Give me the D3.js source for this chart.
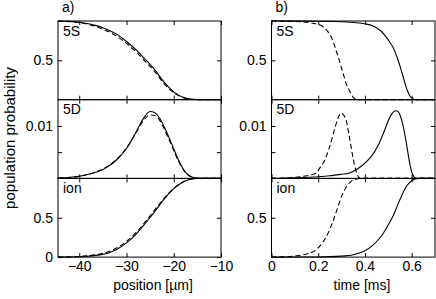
<!DOCTYPE html>
<meta charset="utf-8">
<style>
body { margin: 0; background: #fff; }
svg text { font-family: "Liberation Sans", Arial, sans-serif; font-size: 14px; fill: #000; }
.frame { fill: none; stroke: #000; stroke-width: 1; }
.tick line { stroke: #000; }
.curve { fill: none; stroke: #000; stroke-width: 1.1; }
.dashed { stroke-dasharray: 5,3; }
</style>
<body>
<script src="https://cdn.jsdelivr.net/npm/d3@7"></script>
<script>
// panel a) : population vs position [um]
var pos5S = [[-44.5,1],[-42,0.995],[-40,0.985],[-38,0.965],[-36,0.935],[-34,0.89],[-32,0.83],[-30,0.74],
             [-28,0.635],[-26,0.51],[-24,0.38],[-22,0.22],[-20,0.10],[-18,0.03],[-16.5,0.008],[-15,0.001],[-14,0],[-10,0]];
var pos5Sdash = [[-44.5,1],[-42,0.992],[-40,0.98],[-38,0.955],[-36,0.92],[-34,0.87],[-32,0.805],[-30,0.715],
             [-28,0.61],[-26,0.485],[-24,0.355],[-22,0.2],[-20,0.09],[-18,0.025],[-16.5,0.006],[-15,0.001],[-14,0],[-10,0]];
var pos5D = [[-44.5,0.00005],[-40,0.0004],[-38,0.0008],[-36,0.0013],[-34,0.0022],[-32,0.0036],[-30,0.0057],
             [-28,0.0088],[-26.5,0.0113],[-25,0.01275],[-24,0.0125],[-23,0.0115],[-22,0.0098],[-21,0.0078],
             [-20,0.0056],[-19,0.0035],[-18,0.0018],[-17,0.0007],[-16,0.0002],[-15,0],[-10,0]];
var pos5Ddash = [[-44.5,0.00005],[-40,0.0004],[-38,0.0008],[-36,0.0014],[-34,0.0023],[-32,0.0037],[-30,0.0058],
             [-28,0.0087],[-26.5,0.0109],[-25,0.0121],[-24,0.012],[-23,0.0111],[-22,0.0094],[-21,0.0074],
             [-20,0.0053],[-19,0.0033],[-18,0.0017],[-17,0.0007],[-16,0.0002],[-15,0],[-10,0]];
var posIon = [[-44.5,0],[-40,0.005],[-38,0.012],[-36,0.025],[-34,0.05],[-32,0.1],[-30,0.18],[-28,0.29],
             [-26,0.43],[-24,0.58],[-22,0.74],[-20,0.87],[-18,0.955],[-16.5,0.99],[-15,1],[-10,1]];
var posIonDash = [[-44.5,0],[-40,0.008],[-38,0.018],[-36,0.035],[-34,0.065],[-32,0.12],[-30,0.2],[-28,0.31],
             [-26,0.45],[-24,0.6],[-22,0.75],[-20,0.875],[-18,0.957],[-16.5,0.99],[-15,1],[-10,1]];

// panel b) : population vs time [ms]
var time5S = [[0,1],[0.1,0.999],[0.2,0.997],[0.3,0.99],[0.35,0.98],[0.4,0.965],[0.44,0.93],[0.47,0.87],
             [0.5,0.76],[0.52,0.665],[0.54,0.52],[0.56,0.33],[0.58,0.13],[0.59,0.06],[0.6,0.02],[0.61,0.005],[0.62,0],[0.7,0]];
var time5Sdash = [[0,1],[0.05,0.999],[0.1,0.995],[0.15,0.985],[0.18,0.97],[0.2,0.955],[0.22,0.93],[0.24,0.87],
             [0.26,0.77],[0.275,0.64],[0.29,0.5],[0.3,0.4],[0.31,0.3],[0.32,0.2],[0.333,0.12],[0.345,0.05],
             [0.355,0.015],[0.365,0.003],[0.375,0],[0.7,0]];
var time5D = [[0,0],[0.1,0.0001],[0.2,0.0003],[0.25,0.0005],[0.3,0.0008],[0.33,0.001],[0.36,0.0016],[0.39,0.0025],
             [0.42,0.0038],[0.44,0.005],[0.46,0.0066],[0.48,0.0087],[0.5,0.011],[0.515,0.0123],[0.53,0.0129],
             [0.54,0.0128],[0.55,0.0121],[0.56,0.0107],[0.57,0.0086],[0.58,0.006],[0.59,0.0033],[0.6,0.0013],
             [0.61,0.0003],[0.62,0],[0.7,0]];
var time5Ddash = [[0,0],[0.1,0.0002],[0.15,0.0005],[0.19,0.001],[0.21,0.0022],[0.23,0.0037],[0.25,0.0062],
             [0.27,0.0094],[0.285,0.0115],[0.298,0.01245],[0.31,0.012],[0.32,0.011],[0.33,0.0088],[0.34,0.0062],
             [0.35,0.0037],[0.36,0.0017],[0.37,0.0005],[0.38,0],[0.7,0]];
var timeIon = [[0,0],[0.2,0.002],[0.3,0.012],[0.35,0.03],[0.4,0.08],[0.43,0.14],[0.46,0.23],[0.48,0.31],
             [0.5,0.41],[0.52,0.52],[0.54,0.66],[0.56,0.8],[0.58,0.91],[0.6,0.97],[0.62,0.995],[0.64,1],[0.7,1]];
var timeIonDash = [[0,0],[0.05,0.004],[0.1,0.015],[0.15,0.04],[0.19,0.09],[0.22,0.19],[0.24,0.29],[0.26,0.43],
             [0.28,0.6],[0.3,0.77],[0.32,0.89],[0.34,0.96],[0.36,0.99],[0.38,1],[0.7,1]];

var rowNames = ["5S", "5D", "ion"];
var rowMax = [1, 0.015, 1];
var posTicks = [-40, -30, -20, -10];
var timeTicks = [0, 0.2, 0.4, 0.6];
var yTicksLeft = [[0.5], [0.005, 0.01], [0, 0.5]];
var yTicksRight = [[0.5], [0.005, 0.01], [0.5]];
var yLabels = {"0": "0", "0.5": "0.5", "0.01": "0.01"};

var W = 436, H = 299;
var rowTop = 21, rowH = 78.7;

var svg = d3.select("body").append("svg")
    .attr("width", W)
    .attr("height", H);

var cols = [
  {x: d3.scaleLinear().domain([-44.5, -10]).range([58, 221]), ticks: posTicks, fmt: d3.format("d"),
   lines: [[pos5S, pos5Sdash], [pos5D, pos5Ddash], [posIon, posIonDash]], yt: yTicksLeft,
   tag: "a)", xlabel: "position [\u00b5m]", xlabelX: 153},
  {x: d3.scaleLinear().domain([0, 0.7]).range([271.5, 435]), ticks: timeTicks, fmt: d3.format(".1~f"),
   lines: [[time5S, time5Sdash], [time5D, time5Ddash], [timeIon, timeIonDash]], yt: yTicksRight,
   tag: "b)", xlabel: "time [ms]", xlabelX: 362}
];

cols.forEach(function(c) {
  var x = c.x;
  var x0 = x.range()[0], x1 = x.range()[1];

  rowNames.forEach(function(name, i) {
    var top = rowTop + i * rowH, bot = top + rowH;
    var y = d3.scaleLinear().domain([0, rowMax[i]]).range([bot, top]);
    var g = svg.append("g");

    var line = d3.line()
        .x(function(d) { return x(d[0]); })
        .y(function(d) { return y(d[1]); })
        .curve(d3.curveMonotoneX);

    g.append("path").attr("class", "curve dashed").attr("d", line(c.lines[i][1]));
    g.append("path").attr("class", "curve").attr("d", line(c.lines[i][0]));

    // inward ticks on all four sides
    var last = i == 2;
    g.append("g").attr("transform", "translate(0," + bot + ")")
        .call(d3.axisBottom(x).tickValues(c.ticks).tickSize(-4).tickSizeOuter(0).tickPadding(4)
              .tickFormat(last ? c.fmt : function() { return ""; }));
    g.append("g").attr("transform", "translate(0," + top + ")")
        .call(d3.axisTop(x).tickValues(c.ticks).tickSize(-4).tickSizeOuter(0).tickFormat(""));
    g.append("g").attr("transform", "translate(" + x0 + ",0)")
        .call(d3.axisLeft(y).tickValues(c.yt[i]).tickSize(-4).tickSizeOuter(0).tickPadding(5)
              .tickFormat(function(d) { return yLabels[String(d)] || ""; }));
    g.append("g").attr("transform", "translate(" + x1 + ",0)")
        .call(d3.axisRight(y).tickValues(c.yt[i]).tickSize(-4).tickSizeOuter(0).tickFormat(""));
    g.selectAll(".domain").remove();
    g.selectAll(".tick text").attr("font-family", null).attr("font-size", null);

    g.append("rect").attr("class", "frame")
        .attr("x", x0).attr("y", top)
        .attr("width", x1 - x0).attr("height", rowH);

    g.append("text").attr("x", x0 + 5).attr("y", top + 14.5).text(name);
  });

  svg.append("text").attr("x", x0 + 4).attr("y", 12).text(c.tag);
  svg.append("text").attr("x", c.xlabelX).attr("y", 290)
      .attr("text-anchor", "middle").text(c.xlabel);
});

svg.append("text")
    .attr("transform", "translate(15,138) rotate(-90)")
    .attr("text-anchor", "middle")
    .style("font-size", "15px")
    .text("population probability");
</script>
</body>
